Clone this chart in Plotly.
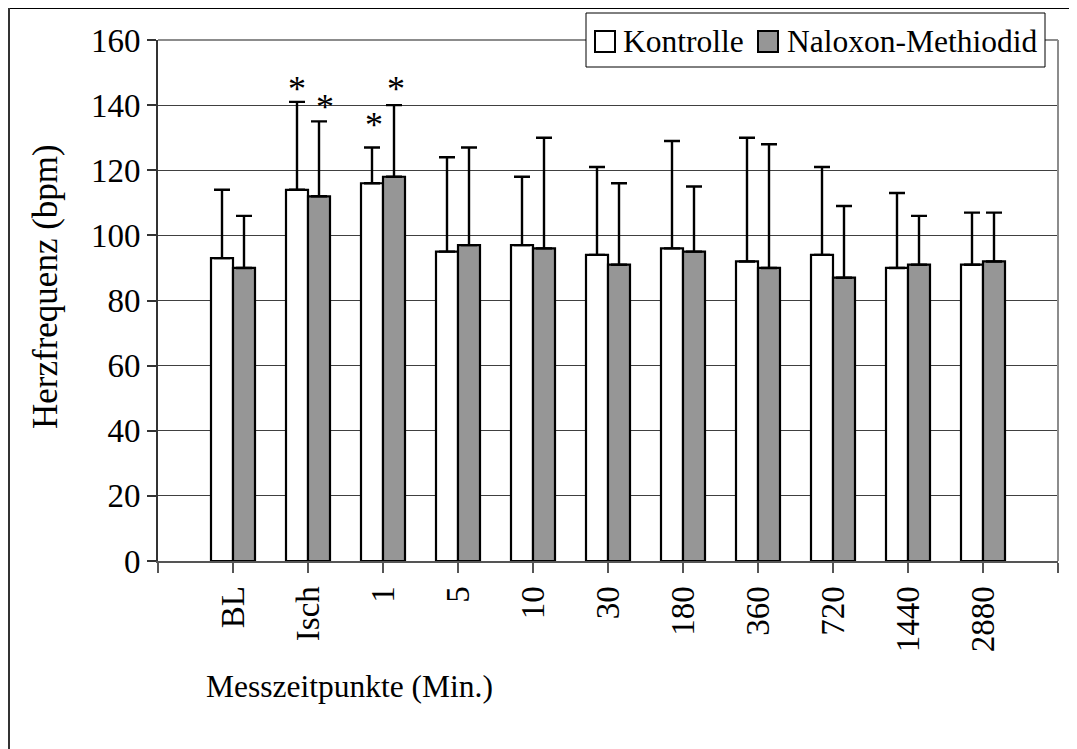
import plotly.graph_objects as go

# ---------------- data ----------------
categories = ["BL", "Isch", "1", "5", "10", "30", "180", "360", "720", "1440", "2880"]
series_names = ["Kontrolle", "Naloxon-Methiodid"]
kontrolle = [93, 114, 116, 95, 97, 94, 96, 92, 94, 90, 91]
kontrolle_sd = [21, 27, 11, 29, 21, 27, 33, 38, 27, 23, 16]
naloxon = [90, 112, 118, 97, 96, 91, 95, 90, 87, 91, 92]
naloxon_sd = [16, 23, 22, 30, 34, 25, 20, 38, 22, 15, 15]

# significance markers: (category, series index, level of the asterisk)
star_cats = ["Isch", "Isch", "1", "1"]
star_series = [0, 1, 0, 1]
star_levels = [146.5, 141.0, 135.5, 146.5]

y_ticks = [0, 20, 40, 60, 80, 100, 120, 140, 160]

# ---------------- layout helpers ----------------
OFF = 8                      # page body margin
W, H = 1077 - OFF, 749 - OFF
L, R, T, B = 158 - OFF, 1058 - OFF, 40 - OFF, 561 - OFF
FONT = "Liberation Serif, Times New Roman, serif"
FS_H = 31.5     # horizontal text
FS_TICK = 33    # tick labels
FS_ROT = 35     # rotated axis title


def px(x):
    x = x - OFF
    return (x - L) / (R - L)


def py(y):
    y = y - OFF
    return (B - y) / (B - T)


xs = list(range(len(categories)))
BARGAP = 0.4133
bar_half = (1 - BARGAP) / 4  # half width of one bar in category units

fig = go.Figure()
fig.add_trace(go.Bar(
    x=xs, y=kontrolle, name=series_names[0],
    marker=dict(color="white", line=dict(color="black", width=2.2)),
    error_y=dict(type="data", symmetric=False, array=kontrolle_sd,
                 arrayminus=[0] * len(kontrolle), color="black",
                 thickness=2.4, width=8),
    showlegend=False,
))
fig.add_trace(go.Bar(
    x=xs, y=naloxon, name=series_names[1],
    marker=dict(color="#969696", line=dict(color="black", width=2.2)),
    error_y=dict(type="data", symmetric=False, array=naloxon_sd,
                 arrayminus=[0] * len(naloxon), color="black",
                 thickness=2.4, width=8),
    showlegend=False,
))

star_xshift = [0, 6, 2, 2]
annotations = []
for c, s, lvl, xsft in zip(star_cats, star_series, star_levels, star_xshift):
    i = categories.index(c)
    xpos = i + (bar_half if s == 1 else -bar_half)
    annotations.append(dict(
        x=xpos, y=lvl, xref="x", yref="y", text="*", showarrow=False,
        font=dict(family=FONT, size=36, color="black"),
        xanchor="center", yanchor="middle", yshift=-5, xshift=xsft,
    ))

# axis titles
annotations.append(dict(
    x=px(45), y=py(287), xref="paper", yref="paper",
    text="Herzfrequenz (bpm)", textangle=-90, showarrow=False,
    font=dict(family=FONT, size=FS_ROT, color="black"),
    xanchor="center", yanchor="middle",
))
annotations.append(dict(
    x=px(204), y=py(686), xref="paper", yref="paper",
    text="Messzeitpunkte (Min.)", showarrow=False,
    font=dict(family=FONT, size=FS_H, color="black"),
    xanchor="left", yanchor="middle",
))

# legend texts
annotations.append(dict(
    x=px(621), y=py(41), xref="paper", yref="paper", text=series_names[0],
    showarrow=False, font=dict(family=FONT, size=FS_H, color="black"),
    xanchor="left", yanchor="middle",
))
annotations.append(dict(
    x=px(785), y=py(41), xref="paper", yref="paper", text=series_names[1],
    showarrow=False, font=dict(family=FONT, size=FS_H, color="black"),
    xanchor="left", yanchor="middle",
))

shapes = [
    # outer chart border (top + left visible)
    dict(type="line", xref="paper", yref="paper", x0=px(9), y0=py(8), x1=px(1077), y1=py(8),
         line=dict(color="black", width=2), layer="above"),
    dict(type="line", xref="paper", yref="paper", x0=px(9), y0=py(8), x1=px(9), y1=py(749),
         line=dict(color="#333", width=2), layer="above"),
    # plot area border top/right
    dict(type="line", xref="paper", yref="paper", x0=0, y0=1, x1=1, y1=1,
         line=dict(color="#8c8c8c", width=2), layer="above"),
    dict(type="line", xref="paper", yref="paper", x0=1, y0=1, x1=1, y1=0,
         line=dict(color="#8c8c8c", width=2), layer="above"),
    # legend box
    dict(type="rect", xref="paper", yref="paper", x0=px(586), x1=px(1045), y0=py(67), y1=py(13),
         fillcolor="white", line=dict(color="black", width=1), layer="above"),
    # legend swatches
    dict(type="rect", xref="paper", yref="paper", x0=px(595), x1=px(615), y0=py(52), y1=py(31),
         fillcolor="white", line=dict(color="black", width=2), layer="above"),
    dict(type="rect", xref="paper", yref="paper", x0=px(758), x1=px(778), y0=py(52), y1=py(31),
         fillcolor="#969696", line=dict(color="black", width=2), layer="above"),
]

fig.update_layout(
    width=W, height=H,
    margin=dict(l=L, r=W - R, t=T, b=H - B, pad=0),
    paper_bgcolor="white", plot_bgcolor="white",
    barmode="group", bargap=BARGAP, bargroupgap=0,
    font=dict(family=FONT, size=FS_H, color="black"),
    annotations=annotations, shapes=shapes,
    xaxis=dict(
        range=[-1, len(categories)],
        tickvals=list(range(-1, len(categories) + 1)),
        ticktext=[""] + categories + [""],
        tickangle=-90, ticks="outside", ticklen=10, tickwidth=1.5, tickcolor="#555",
        showline=True, linecolor="#555", linewidth=2,
        showgrid=False, zeroline=False,
        tickfont=dict(family=FONT, size=FS_TICK, color="black"),
    ),
    yaxis=dict(
        range=[0, 160], tickvals=y_ticks,
        ticks="outside", ticklen=9, tickwidth=1.5, tickcolor="#333",
        showline=True, linecolor="#333", linewidth=2,
        showgrid=True, gridcolor="#404040", gridwidth=1,
        zeroline=False,
        tickfont=dict(family=FONT, size=FS_TICK, color="black"),
    ),
)

fig.write_html("out.html")
